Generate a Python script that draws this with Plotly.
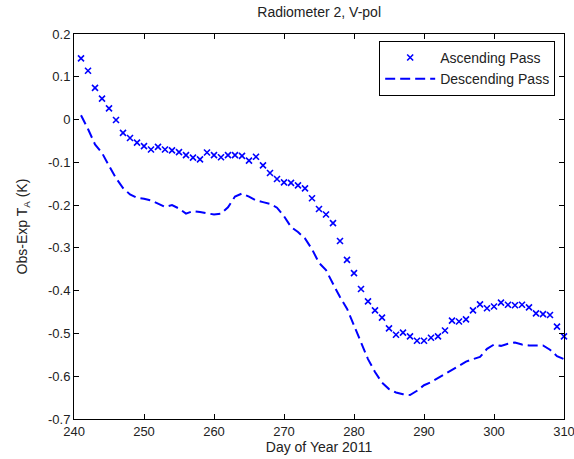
import plotly.graph_objects as go

# day of year 2011
days = list(range(241, 311))

# ascending pass, one point per day
asc = [0.143, 0.114, 0.074, 0.049, 0.026, -0.001, -0.031, -0.043, -0.054, -0.062,
       -0.070, -0.064, -0.070, -0.072, -0.076, -0.083, -0.089, -0.093, -0.077, -0.083,
       -0.088, -0.083, -0.083, -0.085, -0.096, -0.087, -0.107, -0.125, -0.139, -0.147,
       -0.148, -0.154, -0.161, -0.184, -0.209, -0.222, -0.242, -0.284, -0.328, -0.359,
       -0.396, -0.425, -0.446, -0.463, -0.488, -0.503, -0.498, -0.507, -0.517, -0.517,
       -0.510, -0.507, -0.493, -0.470, -0.472, -0.467, -0.446, -0.432, -0.441, -0.437,
       -0.428, -0.433, -0.434, -0.433, -0.439, -0.453, -0.455, -0.457, -0.484, -0.507]

# descending pass
desc = [0.010, -0.022, -0.058, -0.078, -0.108, -0.137, -0.160, -0.175, -0.183, -0.185,
        -0.189, -0.196, -0.204, -0.200, -0.208, -0.220, -0.214, -0.216, -0.219, -0.222,
        -0.220, -0.205, -0.180, -0.173, -0.180, -0.189, -0.193, -0.197, -0.206, -0.226,
        -0.251, -0.263, -0.278, -0.303, -0.335, -0.352, -0.384, -0.415, -0.442, -0.480,
        -0.520, -0.560, -0.590, -0.615, -0.630, -0.638, -0.642, -0.644, -0.634, -0.621,
        -0.614, -0.604, -0.594, -0.586, -0.576, -0.566, -0.560, -0.555, -0.536, -0.526,
        -0.529, -0.524, -0.521, -0.526, -0.528, -0.528, -0.528, -0.538, -0.553, -0.560]

xticks = list(range(240, 311, 10))
yticks = [0.2, 0.1, 0, -0.1, -0.2, -0.3, -0.4, -0.5, -0.6, -0.7]
ytext = ['0.2', '0.1', '0', '-0.1', '-0.2', '-0.3', '-0.4', '-0.5', '-0.6', '-0.7']

blue = '#0000ff'
fam = 'Liberation Sans, Arial, sans-serif'
fnt = dict(family=fam, size=13, color='#222')
title_fnt = dict(family=fam, size=14, color='#222')

fig = go.Figure()
fig.add_trace(go.Scatter(x=days, y=asc, mode='markers', name='Ascending Pass',
                         cliponaxis=False,
                         marker=dict(symbol='x-thin', size=6, color=blue,
                                     line=dict(color=blue, width=1.6))))
fig.add_trace(go.Scatter(x=days, y=desc, mode='lines', name='Descending Pass',
                         line=dict(color=blue, width=2, dash='10px,5px')))

axis_common = dict(showline=True, linecolor='black', linewidth=1, mirror='ticks',
                   ticks='inside', ticklen=5, tickcolor='black', showgrid=False,
                   zeroline=False, tickfont=fnt, automargin=False,
                   ticklabeloverflow='allow')

fig.update_layout(
    width=574, height=459,
    margin=dict(l=74, r=10, t=34, b=40),
    paper_bgcolor='white', plot_bgcolor='white',
    font=fnt,
    title=dict(text='Radiometer 2, V-pol', x=0.556, xanchor='center', y=0.985,
               yanchor='top', font=dict(family=fam, size=14, color='#222')),
    xaxis=dict(range=[239.999, 310.001], tickvals=xticks,
               title=dict(text='Day of Year 2011', standoff=3, font=title_fnt),
               **axis_common),
    yaxis=dict(range=[-0.7, 0.2], tickvals=yticks, ticktext=ytext,
               title=dict(text='Obs-Exp T<sub>A</sub> (K)', standoff=17, font=title_fnt),
               **axis_common),
    legend=dict(x=0.982, y=0.982, xanchor='right', yanchor='top', bgcolor='white',
                bordercolor='black', borderwidth=1, tracegroupgap=0,
                font=dict(family=fam, size=14, color='#222'), itemwidth=50),
    showlegend=True,
)

fig.write_html("out.html", config={'displayModeBar': False},
               post_script="document.body.style.margin='0';")
